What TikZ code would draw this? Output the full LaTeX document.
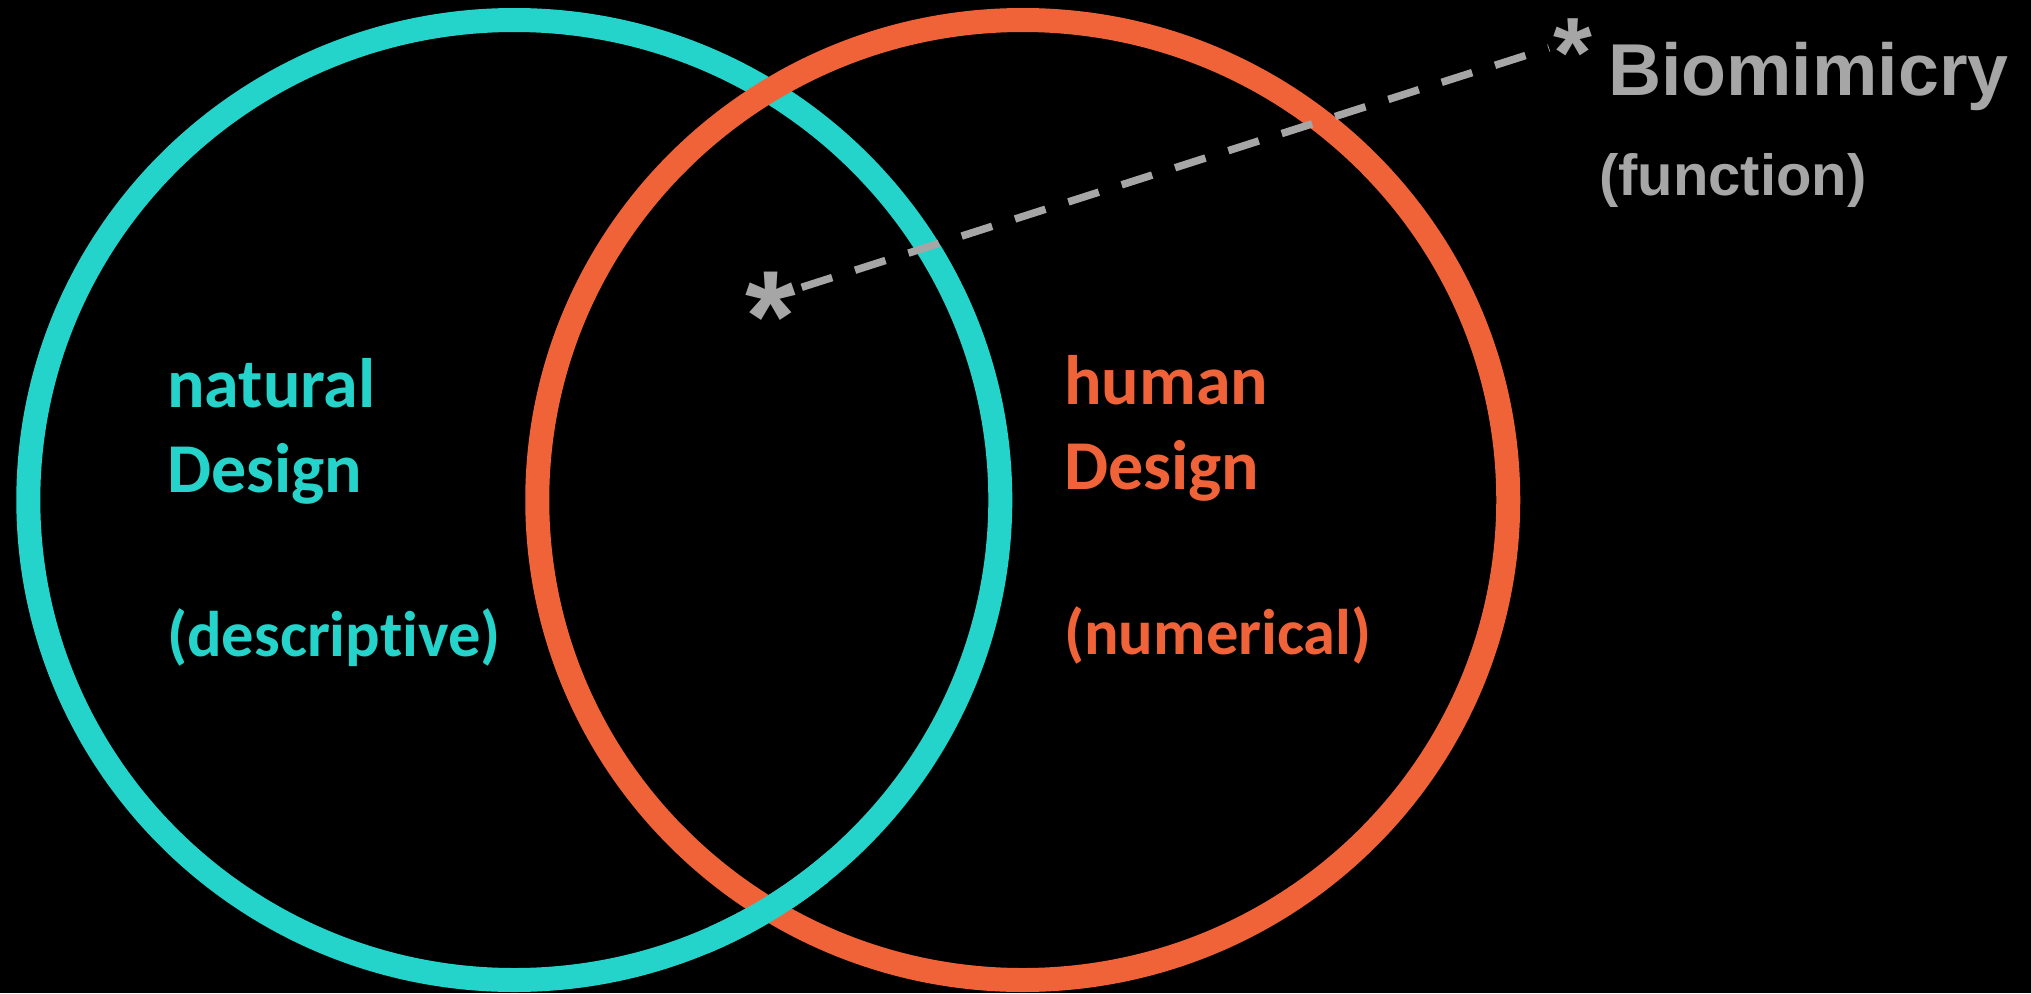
\documentclass[tikz,border=0pt]{standalone}
\usepackage{fontspec}
\setmainfont{Carlito}[Ligatures={NoCommon}]
\newfontfamily\arialfont{Liberation Sans}
\definecolor{tealc}{RGB}{36,211,201}
\definecolor{orangec}{RGB}{240,99,56}
\definecolor{greyc}{RGB}{166,166,166}
\begin{document}
\begin{tikzpicture}[x=1pt,y=-1pt,
  ring/.style={line width=24pt},
  lbl/.style={font=\fontsize{70}{83}\selectfont\bfseries, inner sep=0pt, anchor=base west},
  plbl/.style={font=\fontsize{64.5}{76}\selectfont\bfseries, inner sep=0pt, anchor=base west},
  glbl/.style={inner sep=0pt, text=greyc, anchor=base west},
  star/.style={inner sep=0pt, anchor=base, text=greyc},
  dashline/.style={greyc, line width=7.5pt, dash pattern=on 32pt off 24pt}]
\fill[black] (0,0) rectangle (2031,993);
\useasboundingbox (0,0) rectangle (2031,993);
\coordinate (c1) at (514.3,500);
\coordinate (c2) at (1022.75,500);
\draw[ring, tealc] (c1) ellipse [x radius=486, y radius=480];
\draw[ring, orangec] (c2) ellipse [x radius=485.5, y radius=480];
\begin{scope}
  \clip (708,849) rectangle (828,969);
  \draw[ring, tealc] (c1) ellipse [x radius=486, y radius=480];
\end{scope}
% left labels
\node[lbl, text=tealc] (nat1) at (167,407) {natural};
\node[lbl, text=tealc] (nat2) at (167,492) {Design};
\node[plbl, text=tealc] (nat3) at (167,656) {(descriptive)};
% right labels
\node[lbl, text=orangec] (hum1) at (1064,404) {human};
\node[lbl, text=orangec] (hum2) at (1064,489) {Design};
\node[plbl, text=orangec] (hum3) at (1064,654) {(numerical)};
% biomimicry
\node[glbl, font=\arialfont\fontsize{73.5}{80}\selectfont\bfseries] (bio) at (1608,95) {Biomimicry};
\node[glbl, font=\arialfont\fontsize{58}{64}\selectfont\bfseries] (func) at (1599,195) {(function)};
\node[star, font=\arialfont\fontsize{130}{140}\selectfont\bfseries] (s1) at (771,361) {*};
\node[star, font=\arialfont\fontsize{100}{110}\selectfont\bfseries] (s2) at (1573,87) {*};
\coordinate (ds) at (801.7,287.3);
\coordinate (de) at (1549,48);
\draw[dashline] (ds) -- (de);
\end{tikzpicture}
\end{document}
